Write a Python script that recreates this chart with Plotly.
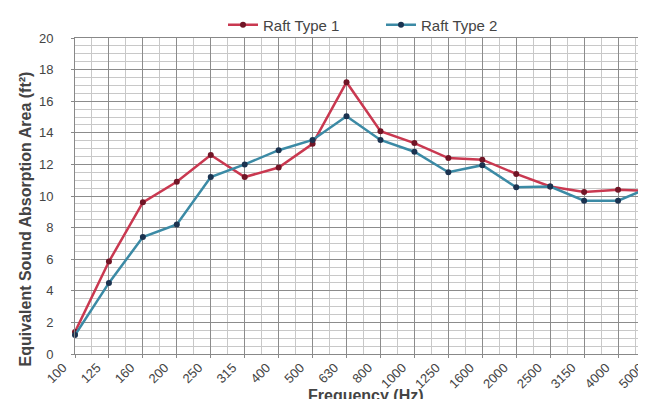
import plotly.graph_objects as go

frequencies = ["100", "125", "160", "200", "250", "315", "400", "500", "630", "800",
               "1000", "1250", "1600", "2000", "2500", "3150", "4000", "5000"]
raft_type_1 = [1.4, 5.85, 9.6, 10.9, 12.6, 11.2, 11.8, 13.3, 17.2, 14.1,
               13.35, 12.4, 12.3, 11.4, 10.6, 10.25, 10.4, 10.3]
raft_type_2 = [1.2, 4.5, 7.4, 8.2, 11.2, 12.0, 12.9, 13.55, 15.05, 13.55,
               12.8, 11.5, 11.95, 10.55, 10.6, 9.7, 9.7, 10.6]
y_ticks = [0, 2, 4, 6, 8, 10, 12, 14, 16, 18, 20]

x_pos = list(range(len(frequencies)))

fig = go.Figure()
fig.add_trace(go.Scatter(
    x=x_pos, y=raft_type_1, mode="lines+markers", name="Raft Type 1",
    line=dict(color="#c93850", width=2.5),
    marker=dict(color="#701526", size=6), cliponaxis=False))
fig.add_trace(go.Scatter(
    x=x_pos, y=raft_type_2, mode="lines+markers", name="Raft Type 2",
    line=dict(color="#3b8aa5", width=2.5),
    marker=dict(color="#1b3350", size=6), cliponaxis=False))

W, H = 646, 399
L, R, T, B = 67, 2, 29, 53
PW, PH = W - L - R, H - T - B

fig.update_layout(
    width=W, height=H,
    margin=dict(l=L, r=R, t=T, b=B),
    paper_bgcolor="white", plot_bgcolor="white",
    font=dict(family="Liberation Sans, Arial, sans-serif", color="#444444", size=13),
    showlegend=True,
    legend=dict(orientation="h", x=(215 - L) / PW, xanchor="left",
                y=(T - 17) / PH + 1.0, yanchor="middle",
                font=dict(size=15, color="#444444"), bgcolor="rgba(0,0,0,0)",
                entrywidth=113, entrywidthmode="pixels"),
    annotations=[
        dict(text="<b>Frequency (Hz)</b>", xref="paper", yref="paper",
             x=(358 - L) / PW, y=-(397 - (H - B)) / PH, xanchor="center", yanchor="bottom",
             showarrow=False, font=dict(size=16, color="#444444"), borderpad=0),
        dict(text="<b>Equivalent Sound Absorption Area (ft²)</b>", xref="paper", yref="paper",
             x=-(L - 17) / PW, y=((H - B) - 211) / PH, xanchor="center", yanchor="middle",
             textangle=-90, showarrow=False, font=dict(size=16, color="#444444")),
    ],
)
fig.update_xaxes(
    tickvals=x_pos, ticktext=frequencies, tickangle=-45,
    showgrid=True, gridcolor="#8c8c8c", gridwidth=1,
    minor=dict(dtick=0.5, tick0=0, showgrid=True, gridcolor="#c8c8c8", gridwidth=1),
    showline=True, linecolor="#888888", mirror=True, zeroline=False,
    ticks="outside", ticklen=3, tickcolor="#888888",
    ticklabelshift=-12, ticklabelstandoff=-3,
    tickfont=dict(size=13, color="#444444"), ticklabeloverflow="allow",
    range=[0, len(frequencies) - 1], automargin=False,
)
fig.update_yaxes(
    range=[0, 20], tickvals=y_ticks, showgrid=True, gridcolor="#8c8c8c", gridwidth=1,
    minor=dict(dtick=0.5, showgrid=True, gridcolor="#c8c8c8", gridwidth=1),
    showline=True, linecolor="#888888", mirror=True, zeroline=False,
    ticks="outside", ticklen=3, tickcolor="#888888", ticklabelstandoff=15,
    tickfont=dict(size=13, color="#444444"), automargin=False,
)

fig.write_html("out.html")
